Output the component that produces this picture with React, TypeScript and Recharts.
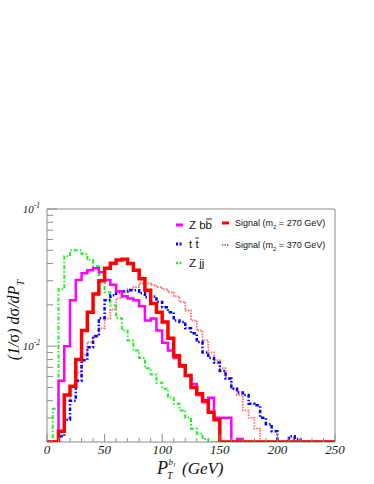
import { LineChart, Line, XAxis, YAxis, ReferenceArea, Legend } from "recharts"

// lower edges of the 5 GeV bins
const binEdges = [
    0, 5, 10, 15, 20, 25, 30, 35, 40, 45,
    50, 55, 60, 65, 70, 75, 80, 85, 90, 95,
    100, 105, 110, 115, 120, 125, 130, 135, 140, 145,
    150, 155, 160, 165, 170, 175, 180, 185, 190, 195,
    200, 205, 210, 215, 220, 225, 230, 235, 240, 245,
]
const xMax = 250

// normalised distributions, 0 = empty bin
const zbb = [
    0, 0, 0.0056, 0.010, 0.0216, 0.0303, 0.034, 0.0358, 0.037, 0.0346,
    0.0303, 0.028, 0.0251, 0.0231, 0.0223, 0.0216, 0.0195, 0.0154, 0.0159, 0.013,
    0.0106, 0.0093, 0.0082, 0.0071, 0.0061, 0.0053, 0.0044, 0.0039, 0.0042, 0.003,
    0.003, 0.003, 0, 0.0021, 0, 0, 0, 0, 0, 0,
    0, 0, 0, 0, 0, 0, 0, 0, 0, 0,
]
const ttbar = [
    0, 0, 0.0022, 0.0029, 0.004, 0.0056, 0.0079, 0.0098, 0.0118, 0.016,
    0.0216, 0.0235, 0.0247, 0.0251, 0.0256, 0.0256, 0.0243, 0.0227, 0.023, 0.021,
    0.0192, 0.0177, 0.0154, 0.015, 0.0135, 0.0124, 0.0107, 0.009, 0.0082, 0.0076,
    0.0066, 0.0058, 0.0049, 0.0046, 0.0044, 0.0038, 0.0037, 0.003, 0.0027, 0.0024,
    0, 0, 0.0022, 0.0021, 0, 0, 0, 0, 0, 0,
]
const zjj = [
    0, 0.0035, 0.026, 0.0453, 0.050, 0.050, 0.047, 0.0424, 0.0383, 0.033,
    0.0247, 0.0198, 0.016, 0.013, 0.011, 0.0093, 0.0082, 0.0069, 0.0062, 0.0054,
    0.0049, 0.0042, 0.0038, 0.0034, 0.003, 0.0025, 0.0023, 0.0021, 0, 0,
    0, 0, 0, 0, 0, 0, 0, 0, 0, 0,
    0, 0, 0, 0, 0, 0, 0, 0, 0, 0,
]
const sig270 = [
    0, 0, 0.0024, 0.0044, 0.0051, 0.008, 0.013, 0.0177, 0.024, 0.030,
    0.037, 0.0403, 0.0424, 0.043, 0.040, 0.0358, 0.031, 0.0256, 0.0205, 0.0177,
    0.015, 0.0114, 0.0085, 0.0072, 0.0061, 0.005, 0.0045, 0.004, 0.0033, 0.0029,
    0, 0, 0, 0, 0, 0, 0, 0, 0, 0,
    0, 0, 0, 0, 0, 0, 0, 0, 0, 0,
]
const sig370 = [
    0, 0, 0.0024, 0.004, 0.0051, 0.0064, 0.0086, 0.0107, 0.012, 0.0135,
    0.0159, 0.0185, 0.0223, 0.0247, 0.026, 0.0269, 0.0287, 0.0287, 0.0278, 0.0269,
    0.026, 0.0247, 0.0231, 0.021, 0.0182, 0.0154, 0.013, 0.011, 0.009, 0.0079,
    0.0069, 0.0058, 0.0049, 0.0044, 0.0034, 0.003, 0.0025, 0, 0, 0,
    0, 0, 0, 0, 0, 0, 0, 0, 0, 0,
]

const yMin = 0.002
const yMax = 0.1
const yTicks = [
    0.002, 0.003, 0.004, 0.005, 0.006, 0.007, 0.008, 0.009,
    0.01, 0.02, 0.03, 0.04, 0.05, 0.06, 0.07, 0.08, 0.09, 0.1,
]
const yMajor = [0.01, 0.1]
const yMajorLabels = ["-2", "-1"]
const xTicks = [0, 10, 20, 30, 40, 50, 60, 70, 80, 90, 100, 110, 120, 130, 140,
    150, 160, 170, 180, 190, 200, 210, 220, 230, 240, 250]
const xMajor = [0, 50, 100, 150, 200, 250]

const series = [
    { key: "sig370", values: sig370, color: "#ff6a6a", width: 1.8, dash: "1.5 1.2" },
    { key: "zjj", values: zjj, color: "#22ee22", width: 2, dash: "4 2 1.5 2" },
    { key: "ttbar", values: ttbar, color: "#0000ff", width: 2.5, dash: "3.5 2 1.5 2" },
    { key: "zbb", values: zbb, color: "#ff00ff", width: 2.5, dash: undefined },
    { key: "sig270", values: sig270, color: "#ff0000", width: 3.5, dash: undefined },
]

const floor = (v: number) => (v > 0 ? v : yMin)

const data = binEdges.map((x, i) => {
    const row: any = { x }
    series.forEach(s => { row[s.key] = floor(s.values[i]) })
    return row
})
// closing edge for the last step
const lastRow: any = { x: xMax }
series.forEach(s => { lastRow[s.key] = floor(s.values[s.values.length - 1]) })
data.push(lastRow)

const serif = "'Liberation Serif', 'DejaVu Serif', serif"
const sans = "'Liberation Sans', Arial, sans-serif"
const frame = "#8c8c8c"

function YTick(props: any) {
    const { y, payload } = props
    const idx = yMajor.indexOf(payload.value)
    const major = idx >= 0
    return (
        <g>
            <line x1={47} x2={47 + (major ? 10 : 6)} y1={y} y2={y} stroke={frame} strokeWidth={1} />
            {major && (
                <text x={40} y={y + 4} textAnchor="end" fontFamily={serif}
                    fontStyle="italic" fontSize={11} fill="#222">
                    10<tspan dy={-5} fontSize={7.5}>{yMajorLabels[idx]}</tspan>
                </text>
            )}
        </g>
    )
}

function XTick(props: any) {
    const { x, payload } = props
    const major = xMajor.includes(payload.value)
    return (
        <g>
            <line x1={x} x2={x} y1={442} y2={442 - (major ? 8 : 4)} stroke={frame} strokeWidth={1} />
            {major && (
                <text x={x} y={454} textAnchor="middle" fontFamily={serif}
                    fontStyle="italic" fontSize={13} fill="#222">
                    {payload.value}
                </text>
            )}
        </g>
    )
}

function XTitle() {
    return (
        <g fontFamily={serif} fontStyle="italic" fill="#111">
            <text x={157} y={474} fontSize={18}>P</text>
            <text x={167} y={479} fontSize={10}>T</text>
            <text x={168.5} y={465} fontSize={9}>b</text>
            <text x={173.5} y={467} fontSize={6.5}>l</text>
            <text x={182} y={474} fontSize={17}>(GeV)</text>
        </g>
    )
}

function YTitle() {
    return (
        <text transform="translate(19,320) rotate(-90)" textAnchor="middle"
            fontFamily={serif} fontStyle="italic" fontSize={16} fill="#111">
            (1/<tspan fontStyle="normal">σ</tspan>) d<tspan fontStyle="normal">σ</tspan>/dP
            <tspan dy={5} fontSize={10.5}>T</tspan>
        </text>
    )
}

// bar: x-range of the overline above the antiparticle letter
const legendLeft = [
    { color: "#ff00ff", dash: undefined, width: 3, y: 225, label: "Z bb", bar: [206, 212] },
    { color: "#0000ff", dash: "2 1.5", width: 3, y: 244, label: "t t", bar: [195.2, 199] },
    { color: "#22ee22", dash: "2 1.5", width: 2.5, y: 263, label: "Z jj", bar: null },
]
const legendRight = [
    { color: "#ff0000", dash: undefined, width: 3, y: 223, mass: "270" },
    { color: "#ff6a6a", dash: "1.5 1", width: 2, y: 245, mass: "370" },
]

function LegendBox() {
    // wrapper sits at (170, 212)
    const ox = 170
    const oy = 212
    return (
        <svg width={170} height={60} style={{ display: "block" }}>
            {legendLeft.map(it => (
                <g key={it.y}>
                    <line x1={176 - ox} x2={183 - ox} y1={it.y - oy} y2={it.y - oy}
                        stroke={it.color} strokeWidth={it.width} strokeDasharray={it.dash} />
                    <text x={189 - ox} y={it.y - oy + 4} fontFamily={sans} fontSize={11.5} fill="#111">
                        {it.label}
                    </text>
                    {it.bar && (
                        <line x1={it.bar[0] - ox} x2={it.bar[1] - ox}
                            y1={it.y - oy - 6} y2={it.y - oy - 6} stroke="#111" strokeWidth={0.9} />
                    )}
                </g>
            ))}
            {legendRight.map(it => (
                <g key={it.y}>
                    <line x1={222 - ox} x2={229 - ox} y1={it.y - oy} y2={it.y - oy}
                        stroke={it.color} strokeWidth={it.width} strokeDasharray={it.dash} />
                    <text x={235 - ox} y={it.y - oy + 3} fontFamily={sans} fontSize={9} fill="#111">
                        Signal (m<tspan dy={3} fontSize={6}>2</tspan>
                        <tspan dy={-3}> = {it.mass} GeV)</tspan>
                    </text>
                </g>
            ))}
        </svg>
    )
}

export default function App() {
    return (
        <div style={{ position: "absolute", left: 0, top: 0, background: "#fff" }}>
            <LineChart width={374} height={484} data={data}
                margin={{ top: 209, right: 39, left: 0, bottom: 0 }}>

                <ReferenceArea x1={0} x2={xMax} y1={yMin} y2={yMax}
                    fill="none" stroke={frame} strokeWidth={1} />

                <XAxis dataKey="x" type="number" domain={[0, xMax]} ticks={xTicks}
                    height={42} axisLine={false} tickLine={false}
                    tick={<XTick />} interval={0} allowDataOverflow
                    label={<XTitle />} />

                <YAxis type="number" scale="log" domain={[yMin, yMax]} ticks={yTicks}
                    width={47} axisLine={false} tickLine={false}
                    tick={<YTick />} interval={0} allowDataOverflow
                    label={<YTitle />} />

                <Legend layout="vertical" align="center" verticalAlign="middle"
                    content={() => <LegendBox />}
                    wrapperStyle={{ left: 170, top: 212, width: 170, height: 60 }} />

                {series.map(s => (
                    <Line key={s.key} dataKey={s.key} type="stepAfter"
                        stroke={s.color} strokeWidth={s.width}
                        strokeDasharray={s.dash} dot={false}
                        isAnimationActive={false} />
                ))}
            </LineChart>
        </div>
    )
}
